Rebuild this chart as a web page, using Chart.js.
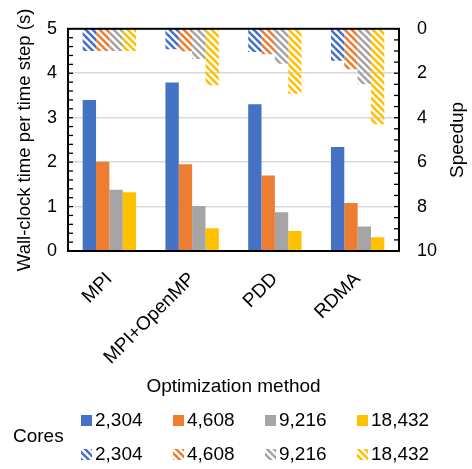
<!DOCTYPE html>
<html>
<head>
<meta charset="utf-8">
<script src="https://cdn.jsdelivr.net/npm/chart.js@4/dist/chart.umd.min.js"></script>
<style>
  body { margin: 0; background: #fff; }
  canvas { display: block; }
</style>
</head>
<body>
<canvas id="chart1" width="472" height="469"></canvas>
<script>
const methods = ["MPI", "MPI+OpenMP", "PDD", "RDMA"];
const cores = ["2,304", "4,608", "9,216", "18,432"];
const colours = ["#4472C4", "#ED7D31", "#A5A5A5", "#FFC000"];

// wall-clock time per time step (s), left axis
const time2304 = [3.40, 3.79, 3.30, 2.34];
const time4608 = [2.01, 1.95, 1.70, 1.08];
const time9216 = [1.38, 1.01, 0.87, 0.55];
const time18432 = [1.32, 0.51, 0.45, 0.31];

// speedup, right axis (reversed)
const speedup2304 = [1.00, 0.92, 1.04, 1.44];
const speedup4608 = [1.00, 1.01, 1.15, 1.82];
const speedup9216 = [1.00, 1.36, 1.57, 2.50];
const speedup18432 = [1.00, 2.54, 2.92, 4.30];

const leftTicks = [0, 1, 2, 3, 4, 5];
const rightTicks = [0, 2, 4, 6, 8, 10];

const fontName = "'Liberation Sans', Arial, sans-serif";

function makeHatch(colour) {
    var c = document.createElement("canvas");
    c.width = 7;
    c.height = 7;
    var g = c.getContext("2d");
    g.strokeStyle = colour;
    g.lineWidth = 2.6;
    //three strokes so the tile repeats without seams
    [-7, 0, 7].forEach(function (off) {
        g.beginPath();
        g.moveTo(off - 1, -1);
        g.lineTo(off + 8, 8);
        g.stroke();
    });
    return g.createPattern(c, "repeat");
}

var hatches = colours.map(makeHatch);
var times = [time2304, time4608, time9216, time18432];
var speedups = [speedup2304, speedup4608, speedup9216, speedup18432];

var datasets = [];
times.forEach(function (arr, i) {
    datasets.push({
        label: cores[i],
        data: arr,
        backgroundColor: colours[i],
        yAxisID: "y",
        stack: "c" + i,
    });
});
speedups.forEach(function (arr, i) {
    datasets.push({
        label: cores[i],
        data: arr,
        backgroundColor: hatches[i],
        yAxisID: "y2",
        stack: "c" + i,
    });
});

// minor ticks, frame, right title and the legend
var decorPlugin = {
    id: "decor",
    afterDatasetsDraw: function (chart) {
        var ctx = chart.ctx;
        var a = chart.chartArea;
        var yl = chart.scales.y;
        var yr = chart.scales.y2;
        ctx.save();
        ctx.strokeStyle = "#000";
        ctx.lineWidth = 1.3;
        for (var v = 0; v <= 5.001; v += 0.2) {
            var py = yl.getPixelForValue(v);
            ctx.beginPath();
            ctx.moveTo(a.left, py);
            ctx.lineTo(a.left + 5, py);
            ctx.stroke();
        }
        for (var w = 0; w <= 10.001; w += 0.5) {
            var pr = yr.getPixelForValue(w);
            ctx.beginPath();
            ctx.moveTo(a.right, pr);
            ctx.lineTo(a.right - 5, pr);
            ctx.stroke();
        }
        ctx.lineWidth = 2;
        ctx.strokeRect(a.left, a.top, a.right - a.left, a.bottom - a.top);
        ctx.restore();
    },
    afterDraw: function (chart) {
        var ctx = chart.ctx;
        var a = chart.chartArea;
        ctx.save();
        ctx.font = "19px " + fontName;
        ctx.fillStyle = "#000";
        ctx.textBaseline = "middle";
        ctx.textAlign = "center";
        //speedup title reads bottom to top like the left one
        ctx.save();
        ctx.translate(458, (a.top + a.bottom) / 2);
        ctx.rotate(-Math.PI / 2);
        ctx.fillText("Speedup", 0, 0);
        ctx.restore();

        ctx.textAlign = "left";
        ctx.fillText("Cores", 13, 437);
        for (var i = 0; i < cores.length; i++) {
            var x = 81 + i * 92;
            ctx.fillStyle = colours[i];
            ctx.fillRect(x, 415, 11, 11);
            ctx.fillStyle = hatches[i];
            ctx.fillRect(x, 449, 11, 11);
            ctx.fillStyle = "#000";
            ctx.fillText(cores[i], x + 14, 421);
            ctx.fillText(cores[i], x + 14, 455);
        }
        ctx.restore();
    }
};

var chart = new Chart(document.getElementById("chart1"), {
    type: "bar",
    data: {
        labels: methods,
        datasets: datasets,
    },
    plugins: [decorPlugin],
    options: {
        responsive: false,
        animation: false,
        layout: { padding: { top: 11, bottom: 71, left: 0, right: 0 } },
        datasets: {
            bar: { barPercentage: 1, categoryPercentage: 0.645, borderWidth: 0 }
        },
        plugins: {
            legend: { display: false },
            tooltip: { enabled: false },
        },
        scales: {
            x: {
                grid: { display: false },
                border: { display: false },
                ticks: {
                    color: "#000",
                    font: { family: fontName, size: 19 },
                    maxRotation: 45,
                    minRotation: 45,
                    padding: 9,
                },
                title: {
                    display: true,
                    text: "Optimization method",
                    color: "#000",
                    font: { family: fontName, size: 19 },
                    padding: 0,
                },
                afterFit: function (s) { s.height = 147; },
            },
            y: {
                position: "left",
                min: 0,
                max: 5,
                stacked: false,
                afterBuildTicks: function (s) {
                    s.ticks = leftTicks.map(function (v) { return { value: v }; });
                },
                grid: {
                    drawTicks: false,
                    lineWidth: 1.5,
                    color: function (c) {
                        var v = c.tick.value;
                        return (v > 0 && v < 5) ? "#d9d9d9" : "rgba(0,0,0,0)";
                    },
                },
                border: { display: false },
                ticks: {
                    color: "#000",
                    font: { family: fontName, size: 18 },
                    padding: 11,
                },
                title: {
                    display: true,
                    text: "Wall-clock time per time step (s)",
                    color: "#000",
                    font: { family: fontName, size: 18.5 },
                    padding: { top: 14, bottom: 0 },
                },
                afterFit: function (s) { s.width = 68; },
            },
            y2: {
                position: "right",
                min: 0,
                max: 10,
                reverse: true,
                stacked: false,
                afterBuildTicks: function (s) {
                    s.ticks = rightTicks.map(function (v) { return { value: v }; });
                },
                grid: { display: false, drawTicks: false },
                border: { display: false },
                ticks: {
                    color: "#000",
                    font: { family: fontName, size: 18 },
                    padding: 18,
                },
                afterFit: function (s) { s.width = 73; },
            },
        },
    },
});
</script>
</body>
</html>
